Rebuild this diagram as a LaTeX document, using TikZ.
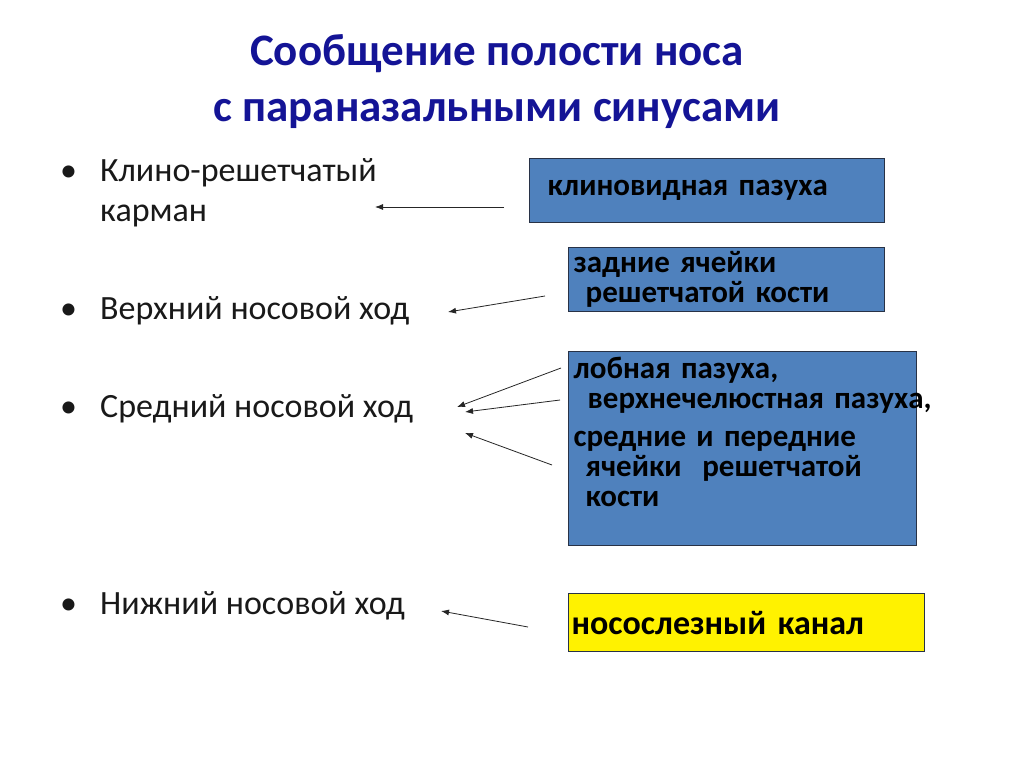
\documentclass[tikz,border=0pt]{standalone}
\usepackage{fontspec}
\setmainfont{Carlito}
\usetikzlibrary{arrows.meta}
\definecolor{titleblue}{RGB}{20,20,150}
\definecolor{boxblue}{RGB}{79,129,189}
\definecolor{boxedge}{RGB}{40,50,70}
\definecolor{bodygray}{RGB}{25,25,25}
\tikzset{
  item/.style={anchor=base west, inner sep=0pt, text=bodygray, align=left,
    font=\fontsize{34}{40}\selectfont},
  sinus/.style={draw=boxedge, line width=1.2pt, fill=boxblue, anchor=north west,
    inner xsep=5pt, inner ysep=0pt, align=left, text=black,
    font=\bfseries\fontsize{31}{30}\selectfont},
  link/.style={-{Latex[length=8pt,width=6pt]}, line width=0.8pt, draw=black!85}
}
\newcommand{\bul}{\makebox[40pt][l]{•}}
\begin{document}
\begin{tikzpicture}[x=1pt,y=-1pt]
  \useasboundingbox (0,0) rectangle (1024,768);
  \fill[white] (0,0) rectangle (1024,768);
  % Title
  \node[anchor=base, text=titleblue, font=\bfseries\fontsize{45}{55}\selectfont, align=center]
    (title) at (497,121) {Сообщение полости носа\\с параназальными синусами};
  % Passages on the left
  \node[item] (pocket) at (60,221) {\bul Клино-решетчатый\\\hspace*{40pt}карман};
  \node[item] (upper) at (60,319) {\bul Верхний носовой ход};
  \node[item] (middle) at (60,417) {\bul Средний носовой ход};
  \node[item] (lower) at (60,614) {\bul Нижний носовой ход};
  % Sinuses on the right
  \node[sinus, minimum width=355pt, minimum height=64pt, text width=319pt, inner xsep=18pt]
    (sphenoid) at (529,158) {клиновидная пазуха};
  \node[sinus, minimum width=316pt, minimum height=64pt, text width=306pt]
    (posterior) at (568,247) {задние ячейки\\\hspace*{12pt}решетчатой кости};
  \node[sinus, minimum width=348pt, minimum height=194pt, text width=338pt]
    (anterior) at (568,351) {лобная пазуха,\\\hspace*{14pt}\rlap{верхнечелюстная пазуха,}\\[8pt]
      средние и передние\\\hspace*{12pt}ячейки\ \ решетчатой\\\hspace*{12pt}кости\rule[-34pt]{0pt}{0pt}};
  \node[sinus, fill=yellow, minimum width=356pt, minimum height=58pt, text width=350pt,
    inner xsep=3pt, font=\bfseries\fontsize{34}{36}\selectfont]
    (canal) at (568,593) {носослезный канал};
  % Arrow ends
  \coordinate (s1) at (504,207);  \coordinate (e1) at (375,207);
  \coordinate (s2) at (545,296);  \coordinate (e2) at (448,312);
  \coordinate (s3) at (561,368);  \coordinate (e3) at (457,407);
  \coordinate (s4) at (560,400);  \coordinate (e4) at (465,412);
  \coordinate (s5) at (552,465);  \coordinate (e5) at (465,433);
  \coordinate (s6) at (528,627);  \coordinate (e6) at (441,611);
  % Arrows
  \draw[link] (s1) -- (e1);
  \draw[link] (s2) -- (e2);
  \draw[link] (s3) -- (e3);
  \draw[link] (s4) -- (e4);
  \draw[link] (s5) -- (e5);
  \draw[link] (s6) -- (e6);
\end{tikzpicture}
\end{document}
